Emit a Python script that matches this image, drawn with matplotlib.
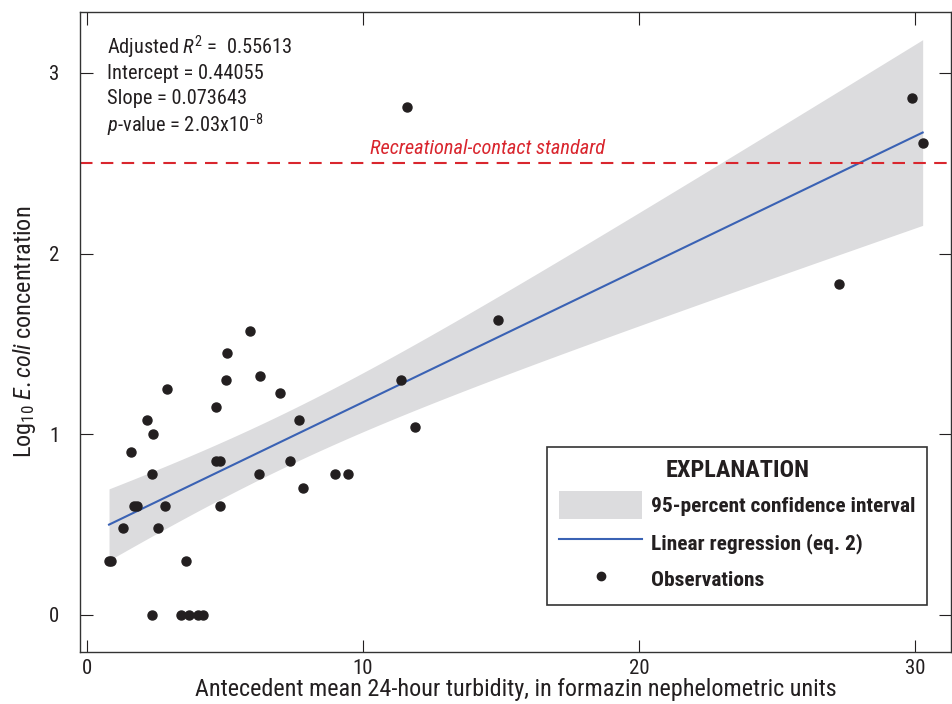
import matplotlib.pyplot as plt
import matplotlib.patches as mpatches
from matplotlib.lines import Line2D
import numpy as np

plt.rcParams['font.family'] = ['Roboto Condensed', 'DejaVu Sans']
plt.rcParams['mathtext.fontset'] = 'custom'
plt.rcParams['mathtext.rm'] = 'Roboto Condensed'
plt.rcParams['mathtext.it'] = 'Roboto Condensed:italic'

# observations (turbidity, log10 E. coli)
turb = [0.80, 0.88, 1.31, 1.58, 1.70, 1.82, 2.19, 2.41, 2.34, 2.34,
        2.59, 2.82, 2.89, 3.58, 3.39, 3.70, 4.01, 4.20, 4.66, 4.67,
        4.81, 4.81, 5.05, 5.08, 5.89, 6.23, 6.28, 7.00, 7.35, 7.67,
        7.84, 8.99, 9.45, 11.60, 11.36, 11.89, 14.88, 27.25, 29.90, 30.27]
logec = [0.30, 0.30, 0.48, 0.90, 0.60, 0.60, 1.08, 1.00, 0.78, 0.00,
         0.48, 0.60, 1.25, 0.30, 0.00, 0.00, 0.00, 0.00, 1.15, 0.85,
         0.85, 0.60, 1.30, 1.45, 1.57, 0.78, 1.32, 1.23, 0.85, 1.08,
         0.70, 0.78, 0.78, 2.81, 1.30, 1.04, 1.63, 1.83, 2.86, 2.61]

intercept = 0.44055
slope = 0.073643
standard = 2.5
t_crit = 2.024  # 95 percent, 38 degrees of freedom

x = np.array(turb)
y = np.array(logec)
n = len(x)
resid = y - (intercept + slope * x)
s = np.sqrt(np.sum(resid ** 2) / (n - 2))
sxx = np.sum((x - x.mean()) ** 2)
xs = np.linspace(x.min(), x.max(), 200)
fit = intercept + slope * xs
hw = t_crit * s * np.sqrt(1.0 / n + (xs - x.mean()) ** 2 / sxx)

fig = plt.figure(figsize=(9.53, 7.04), dpi=100)
ax = fig.add_axes([0.084, 0.074, 0.914, 0.909])

ci_col = '#dcdcde'
line_col = '#3a62b4'
red = '#d9262e'
ink = '#231f20'

ax.fill_between(xs, fit - hw, fit + hw, color=ci_col, lw=0, zorder=1)
ax.plot(xs, fit, color=line_col, lw=1.5, zorder=2)
ax.axhline(standard, color=red, lw=1.5, ls=(0, (6, 4)), zorder=2)
ax.plot(x, y, 'o', color=ink, ms=6.5, zorder=3)

ax.text(14.5, standard + 0.03, 'Recreational-contact standard', color=red,
        style='italic', fontsize=14.7, ha='center', va='bottom')

ax.set_xlim(-0.25, 31.3)
ax.set_ylim(-0.205, 3.337)
ax.set_xticks([0, 10, 20, 30])
ax.set_yticks([0, 1, 2, 3])
ax.tick_params(direction='in', length=9, width=0.8, top=True, right=True,
               labelsize=15, colors=ink)
ax.tick_params(axis='x', pad=5)
ax.tick_params(axis='y', pad=15)
for sp in ax.spines.values():
    sp.set_linewidth(1.0)
    sp.set_color('#333333')

ax.set_xlabel('Antecedent mean 24-hour turbidity, in formazin nephelometric units',
              fontsize=17.4, color=ink, labelpad=0)
ax.set_ylabel(r'Log$_{10}$ $\it{E. coli}$ concentration', fontsize=17.5,
              color=ink, labelpad=8)

stats = [r'Adjusted $\it{R}^2$ =  0.55613',
         'Intercept = 0.44055',
         'Slope = 0.073643',
         r'$\it{p}$-value = 2.03x10$^{-8}$']
for i, t in enumerate(stats):
    ax.text(0.031, 0.945 - i * 0.0405, t, transform=ax.transAxes,
            fontsize=14.7, color=ink, va='center', ha='left')

handles = [mpatches.Patch(facecolor=ci_col, edgecolor='none'),
           Line2D([], [], color=line_col, lw=1.5),
           Line2D([], [], marker='o', color=ink, ls='none', ms=6)]
labels = ['95-percent confidence interval', 'Linear regression (eq. 2)',
          'Observations']
leg = ax.legend(handles, labels, loc='lower right',
                bbox_to_anchor=(0.9725, 0.0734), frameon=True, fancybox=False,
                edgecolor='#333333', framealpha=1, title='EXPLANATION',
                prop={'weight': 'bold', 'size': 15.4}, handlelength=3.9,
                handleheight=1.6, labelspacing=0.45, handletextpad=0.4,
                borderpad=0.55, borderaxespad=0)
leg.get_title().set_fontweight('bold')
leg.get_title().set_fontsize(17.5)
leg.get_title().set_color(ink)
for t in leg.get_texts():
    t.set_color(ink)
leg.get_frame().set_linewidth(1.2)

fig.savefig('out.png', dpi=100)
